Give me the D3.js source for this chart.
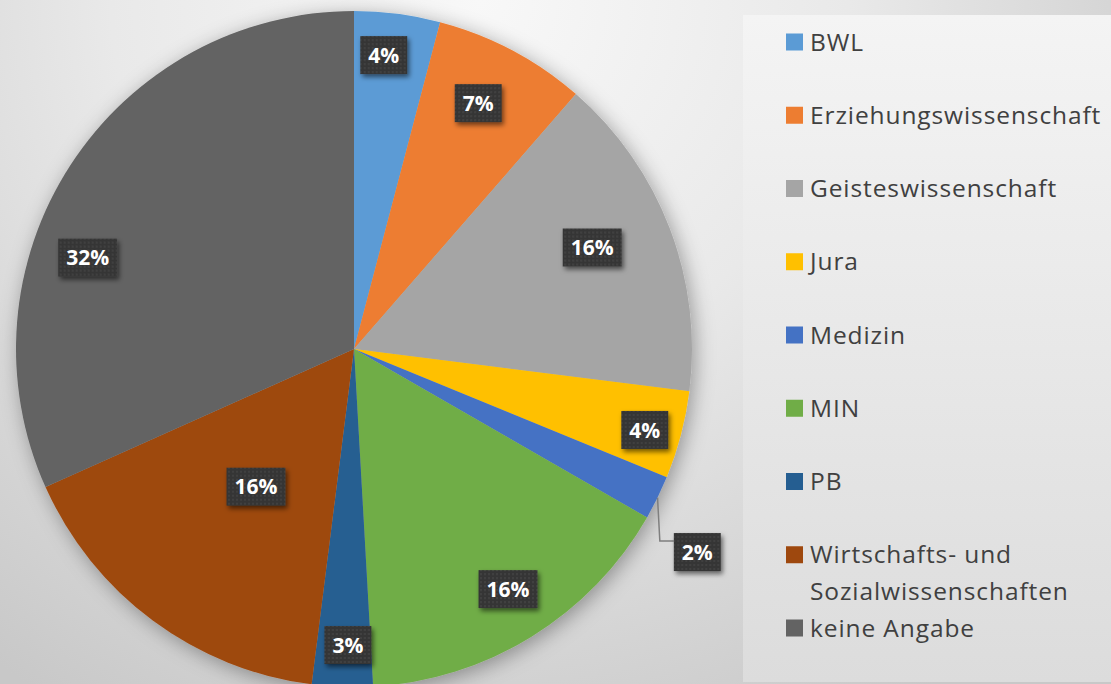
<!DOCTYPE html>
<html>
<head>
<meta charset="utf-8">
<script src="https://cdn.jsdelivr.net/npm/d3@7"></script>
<style>
  html, body { margin: 0; padding: 0; overflow: hidden; }
  svg { display: block; }
</style>
</head>
<body>
<svg id="chart" width="1111" height="684"></svg>
<script>
// Share of respondents per faculty (percent)
const categories = ['BWL', 'Erziehungswissenschaft', 'Geisteswissenschaft', 'Jura', 'Medizin',
  'MIN', 'PB', 'Wirtschafts- und Sozialwissenschaften', 'keine Angabe'];
const shares = [4.1, 7.3, 15.6, 4.2, 2.1, 15.8, 2.9, 16.3, 31.7];
const colors = ['#5b9bd5', '#ed7d31', '#a5a5a5', '#ffc000', '#4472c4',
  '#70ad47', '#255e91', '#9e480e', '#636363'];
// Legend lines (the long name wraps in two)
const legendLines = [['BWL'], ['Erziehungswissenschaft'], ['Geisteswissenschaft'], ['Jura'], ['Medizin'],
  ['MIN'], ['PB'], ['Wirtschafts- und', 'Sozialwissenschaften'], ['keine Angabe']];

// label placement: angle shift (deg) from slice middle, radius as part of r
const labelShift = [-1.6, -1.1, -2.2, 0.8, 4.5, -1, -0.8, -1.1, -14];
const labelRad = [0.874, 0.815, 0.766, 0.893, 1.18, 0.844, 0.876, 0.5, 0.833];

const width = 1111, height = 684;
const cx = 354, cy = 349, r = 338;

const svg = d3.select('#chart');
const defs = svg.append('defs');

// background
const bg = defs.append('radialGradient').attr('id', 'bg')
  .attr('gradientUnits', 'userSpaceOnUse')
  .attr('cx', 480).attr('cy', 0).attr('r', 820);
bg.append('stop').attr('offset', '0%').attr('stop-color', '#f8f8f8');
bg.append('stop').attr('offset', '45%').attr('stop-color', '#e9e9e9');
bg.append('stop').attr('offset', '100%').attr('stop-color', '#c8c8c8');

const lg = defs.append('linearGradient').attr('id', 'legendBg')
  .attr('x1', 0).attr('y1', 0).attr('x2', 0).attr('y2', 1);
lg.append('stop').attr('offset', '0%').attr('stop-color', '#f4f4f4');
lg.append('stop').attr('offset', '100%').attr('stop-color', '#dcdcdc');

const pieShadow = defs.append('filter').attr('id', 'pieShadow')
  .attr('x', '-20%').attr('y', '-20%').attr('width', '140%').attr('height', '140%');
pieShadow.append('feDropShadow').attr('dx', 3).attr('dy', 4)
  .attr('stdDeviation', 10).attr('flood-color', '#000').attr('flood-opacity', 0.35);

const boxShadow = defs.append('filter').attr('id', 'boxShadow')
  .attr('x', '-30%').attr('y', '-30%').attr('width', '160%').attr('height', '160%');
boxShadow.append('feDropShadow').attr('dx', 2).attr('dy', 3)
  .attr('stdDeviation', 2.5).attr('flood-color', '#000').attr('flood-opacity', 0.55);

// dotted fill of the label boxes
const dots = defs.append('pattern').attr('id', 'dots')
  .attr('patternUnits', 'userSpaceOnUse').attr('width', 4).attr('height', 4);
dots.append('rect').attr('width', 4).attr('height', 4).attr('fill', '#363636');
dots.append('circle').attr('cx', 1).attr('cy', 1).attr('r', 0.7).attr('fill', '#555');

svg.append('rect').attr('width', width).attr('height', height).attr('fill', 'url(#bg)');

// legend panel
svg.append('rect')
  .attr('x', 743).attr('y', 15).attr('width', 380).attr('height', 667)
  .attr('fill', 'url(#legendBg)');

// pie
const pie = d3.pie().sort(null).value(d => d);
const arcs = pie(shares);
const arc = d3.arc().innerRadius(0).outerRadius(r);

const g = svg.append('g').attr('transform', `translate(${cx},${cy})`);
g.append('g').attr('filter', 'url(#pieShadow)')
  .selectAll('path')
  .data(arcs)
  .enter()
  .append('path')
  .attr('d', arc)
  .attr('fill', (d, i) => colors[i]);

// data labels
const labels = g.append('g');
arcs.forEach((d, i) => {
  const mid = (d.startAngle + d.endAngle) / 2;
  const a = mid + labelShift[i] * Math.PI / 180;
  const lx = Math.sin(a) * r * labelRad[i];
  const ly = -Math.cos(a) * r * labelRad[i];

  const lab = labels.append('g').attr('transform', `translate(${lx},${ly})`);
  const rect = lab.append('rect').attr('fill', 'url(#dots)').attr('filter', 'url(#boxShadow)');
  const txt = lab.append('text')
    .attr('text-anchor', 'middle')
    .attr('dy', '0.36em')
    .attr('fill', '#fff')
    .style('font-family', '"Open Sans", sans-serif')
    .style('font-weight', 700)
    .style('font-size', '21px')
    .text(Math.round(d.data) + '%');
  const w = txt.node().getComputedTextLength() + 16;
  const h = 38;
  rect.attr('x', -w / 2).attr('y', -h / 2).attr('width', w).attr('height', h);

  // slice too small: label sits outside with a leader line
  if (labelRad[i] > 1) {
    const ex = Math.sin(mid) * r, ey = -Math.cos(mid) * r;
    const jy = ly - h / 2 + 8;
    labels.insert('path', ':first-child')
      .attr('d', `M${ex},${ey}L${lx - w / 2 - 14},${jy}L${lx - w / 2},${jy}`)
      .attr('fill', 'none')
      .attr('stroke', '#7f7f7f')
      .attr('stroke-width', 1.5);
  }
});

// legend
const ly = d3.scalePoint().domain(categories).range([42, 628]);
const legend = svg.append('g');
categories.forEach((c, i) => {
  const item = legend.append('g').attr('transform', `translate(786,${ly(c)})`);
  item.append('rect')
    .attr('x', 0).attr('y', -8.5).attr('width', 17).attr('height', 17)
    .attr('fill', colors[i]);
  const t = item.append('text')
    .attr('x', 24)
    .attr('fill', '#404040')
    .style('font-family', '"Open Sans", sans-serif')
    .style('font-size', '24.5px')
    .style('letter-spacing', '0.9px');
  legendLines[i].forEach((line, k) => {
    t.append('tspan').attr('x', 24).attr('y', k * 37).attr('dy', '0.35em').text(line);
  });
});
</script>
</body>
</html>
